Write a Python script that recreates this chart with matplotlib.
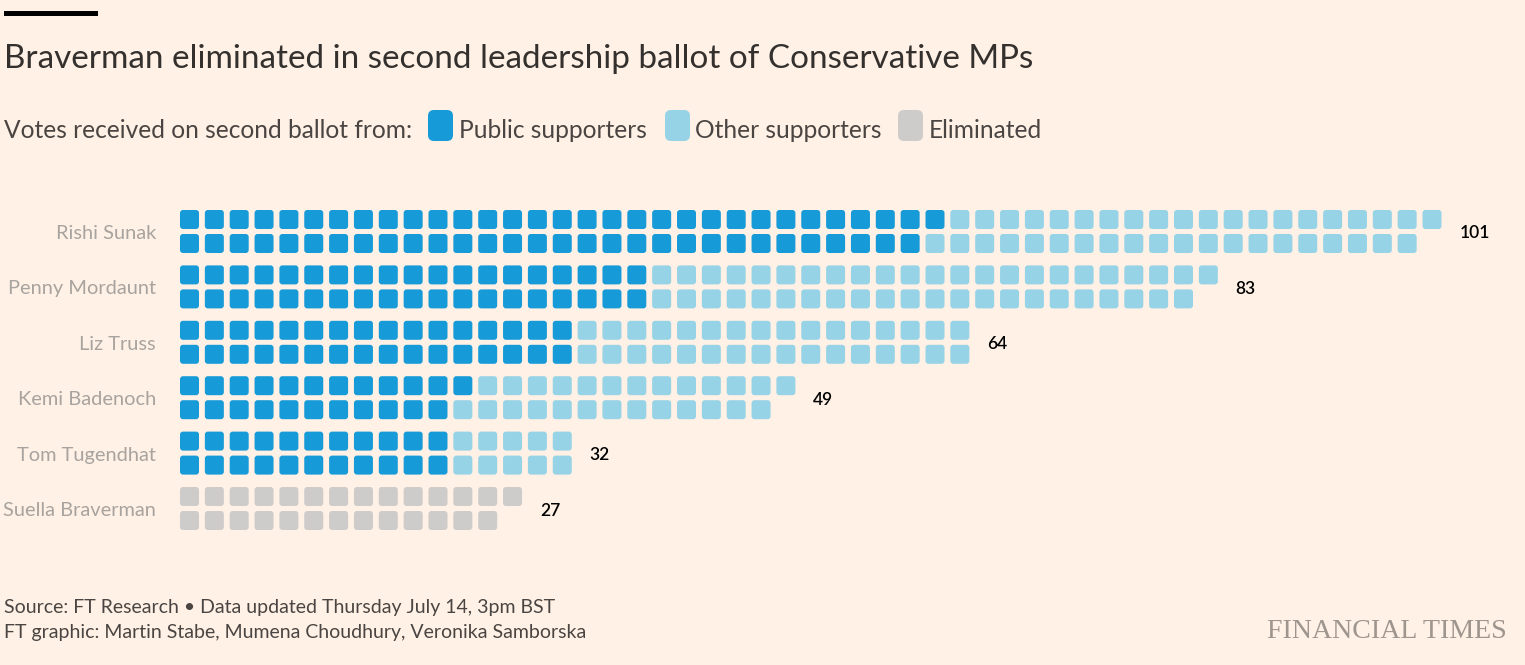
import math
import matplotlib
matplotlib.use("Agg")
import matplotlib.pyplot as plt
from matplotlib.patches import FancyBboxPatch, Rectangle

# ---------------- data ----------------
candidates = ["Rishi Sunak", "Penny Mordaunt", "Liz Truss",
              "Kemi Badenoch", "Tom Tugendhat", "Suella Braverman"]
public_votes = [61, 38, 32, 23, 22, 0]
other_votes = [40, 45, 32, 26, 10, 0]
eliminated_votes = [0, 0, 0, 0, 0, 27]
legend_labels = ["Public supporters", "Other supporters", "Eliminated"]

title = "Braverman eliminated in second leadership ballot of Conservative MPs"
subtitle = "Votes received on second ballot from:"
source1 = "Source: FT Research \u2022 Data updated Thursday July 14, 3pm BST"
source2 = "FT graphic: Martin Stabe, Mumena Choudhury, Veronika Samborska"

# ---------------- style ----------------
BG = "#fff1e5"
COLORS = ["#179ad8", "#96d3e6", "#cdcccb"]
TITLE_C = "#33302e"
TEXT_C = "#4a4542"
NAME_C = "#a8a39f"
FONT = ["Lato", "DejaVu Sans"]

W, H, DPI = 1525, 665, 100
fig = plt.figure(figsize=(W / DPI, H / DPI), dpi=DPI, facecolor=BG)
renderer = fig.canvas.get_renderer()

PX = 24.85          # pixels per data unit (one waffle column)
X0, Y0 = 180, 200   # pixel position of data origin
NCOLS_VIEW = 54
AX_H = 13.9
ax = fig.add_axes([X0 / W, 1 - (Y0 + AX_H * PX) / H, NCOLS_VIEW * PX / W, AX_H * PX / H])
ax.set_xlim(0, NCOLS_VIEW)
ax.set_ylim(AX_H, 0)
ax.axis("off")
ax.set_facecolor(BG)

SQ = 19 / PX
ROW_PITCH = 24 / PX
GROUP_PITCH = 55.4 / PX
TOP = 10 / PX
RND = 3 / PX


def fit(t, target):
    for _ in range(3):
        w = t.get_window_extent(renderer).width
        t.set_fontsize(t.get_fontsize() * target / w)
    return t.get_fontsize()


def ftext(x, y, s, **kw):
    return fig.text(x / W, 1 - y / H, s, **kw)


# ---------------- waffle ----------------
name_texts = []
for g, name in enumerate(candidates):
    counts = [public_votes[g], other_votes[g], eliminated_votes[g]]
    cell_colors = []
    for c, n in zip(COLORS, counts):
        cell_colors += [c] * n
    total = len(cell_colors)
    for i, col in enumerate(cell_colors):
        cx = i // 2
        ry = i % 2
        y = TOP + g * GROUP_PITCH + ry * ROW_PITCH
        ax.add_patch(FancyBboxPatch((cx, y), SQ, SQ,
                                    boxstyle=f"round,pad=0,rounding_size={RND}",
                                    fc=col, ec="none"))
    yc = TOP + g * GROUP_PITCH + (ROW_PITCH + SQ) / 2 + 2 / PX
    ncols = math.ceil(total / 2)
    ax.text(ncols - 1 + SQ + 0.72, yc, str(total), ha="left", va="center",
            fontsize=12.5, color="#000000", family=FONT, fontweight="semibold",
            clip_on=False)
    t = ax.text(-24 / PX, yc, name, ha="right", va="center", fontsize=15,
                color=NAME_C, family=FONT, clip_on=False)
    name_texts.append(t)

sz = fit(name_texts[-1], 153)
for t in name_texts:
    t.set_fontsize(sz)

# ---------------- header ----------------
fig.add_artist(Rectangle((4 / W, 1 - 16 / H), 94 / W, 5 / H,
                         transform=fig.transFigure, color="black", lw=0))

tt = ftext(4, 68, title, ha="left", va="baseline", fontsize=24,
           color=TITLE_C, family=FONT)
fit(tt, 1029)

st = ftext(4, 138, subtitle, ha="left", va="baseline", fontsize=18,
           color=TEXT_C, family=FONT)
lsz = fit(st, 410)

legend_patch_x = [428, 665, 898]
legend_text_x = [459, 695, 929]
for px, tx, lab, col in zip(legend_patch_x, legend_text_x, legend_labels, COLORS):
    x, y = (px - X0) / PX, (110 - Y0) / PX
    ax.add_patch(FancyBboxPatch((x, y), 25 / PX, 31 / PX,
                                boxstyle=f"round,pad=0,rounding_size={6 / PX}",
                                fc=col, ec="none", clip_on=False))
    ftext(tx, 138, lab, ha="left", va="baseline", fontsize=lsz,
          color=TEXT_C, family=FONT)

# ---------------- footer ----------------
f1 = ftext(4, 613, source1, ha="left", va="baseline", fontsize=13,
           color=TEXT_C, family=FONT)
fsz = fit(f1, 549)
ftext(4, 638, source2, ha="left", va="baseline", fontsize=fsz,
      color=TEXT_C, family=FONT)

ft = ftext(1267, 638, "FINANCIAL TIMES", ha="left", va="baseline", fontsize=18,
           color="#9e958e", family=["Liberation Serif", "DejaVu Serif"])
fit(ft, 240)

fig.savefig("out.png", dpi=DPI, facecolor=BG)
